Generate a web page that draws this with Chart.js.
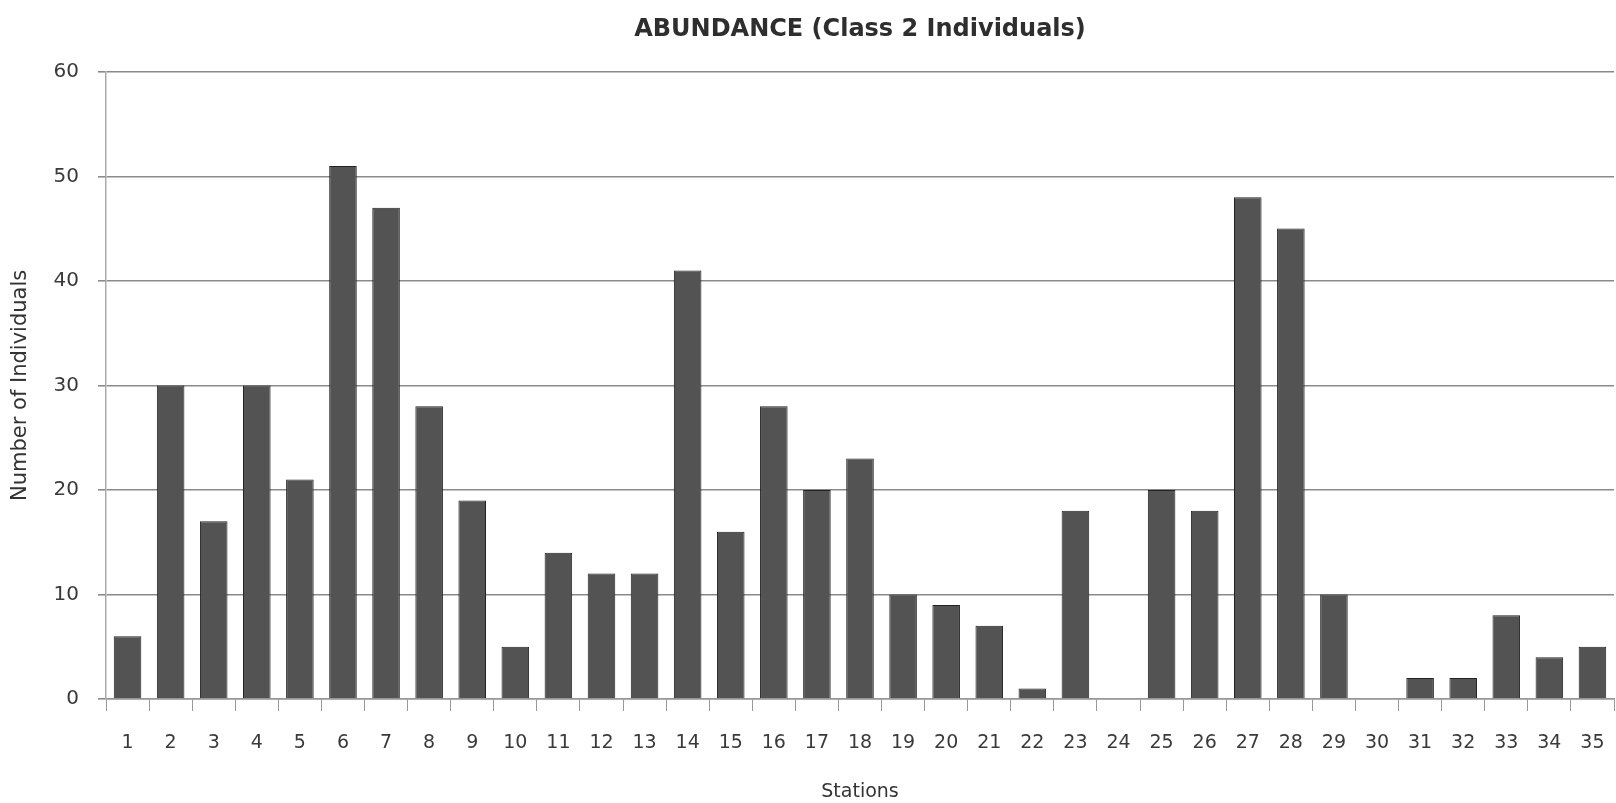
<!DOCTYPE html>
<html>
<head>
<meta charset="utf-8">
<script src="https://cdn.jsdelivr.net/npm/chart.js@4/dist/chart.umd.min.js"></script>
<style>
  html, body { margin: 0; padding: 0; background: #fff; }
  #wrap { width: 1616px; height: 803px; }
</style>
</head>
<body>
<div id="wrap"><canvas id="abundanceChart" width="1616" height="803"></canvas></div>
<script>
const stations = ["1","2","3","4","5","6","7","8","9","10","11","12","13","14","15","16","17","18","19","20","21","22","23","24","25","26","27","28","29","30","31","32","33","34","35"];
const individuals = [6,30,17,30,21,51,47,28,19,5,14,12,12,41,16,28,20,23,10,9,7,1,18,0,20,18,48,45,10,0,2,2,8,4,5];
const yTicks = [0,10,20,30,40,50,60];

const FONT = "'DejaVu Sans', Verdana, sans-serif";

new Chart(document.getElementById("abundanceChart"), {
  type: "bar",
  data: {
    labels: stations,
    datasets: [{
      label: "Class 2 Individuals",
      data: individuals,
      backgroundColor: "#535353",
      borderColor: "#222",
      borderWidth: 1,
      barPercentage: 0.64,
      categoryPercentage: 1
    }]
  },
  options: {
    responsive: false,
    animation: false,
    layout: { padding: { left: 0, right: 2, top: 0, bottom: 0 } },
    plugins: {
      legend: { display: false },
      tooltip: { enabled: false },
      title: {
        display: true,
        fullSize: false,
        text: "ABUNDANCE (Class 2 Individuals)",
        color: "#2e2e2e",
        font: { family: FONT, size: 24, weight: "bold" },
        padding: { top: 15, bottom: 28 }
      }
    },
    scales: {
      x: {
        grid: {
          offset: true,
          drawOnChartArea: false,
          drawTicks: true,
          tickLength: 12,
          color: "#999"
        },
        border: { color: "#999", width: 1.5 },
        ticks: { color: "#3a3a3a", font: { family: FONT, size: 19 }, padding: 21, maxRotation: 0, autoSkip: false },
        title: {
          display: true,
          text: "Stations",
          color: "#333",
          font: { family: FONT, size: 19 },
          padding: { top: 0, bottom: 0 }
        },
        afterFit: (scale) => {
          scale.height = 104;
          scale.paddingLeft = 0;
          scale.paddingRight = 0;
        }
      },
      y: {
        min: 0,
        max: 60,
        afterBuildTicks: (scale) => { scale.ticks = yTicks.map((v) => ({ value: v })); },
        grid: { color: "#8a8a8a", lineWidth: 1.6, tickLength: 8 },
        border: { color: "#aaa", width: 1.5 },
        ticks: { color: "#3a3a3a", font: { family: FONT, size: 20 }, padding: 19 },
        title: {
          display: true,
          text: "Number of Individuals",
          color: "#333",
          font: { family: FONT, size: 21 },
          padding: { top: 8, bottom: 0 }
        },
        afterFit: (scale) => { scale.width = 106; }
      }
    }
  }
});
</script>
</body>
</html>
